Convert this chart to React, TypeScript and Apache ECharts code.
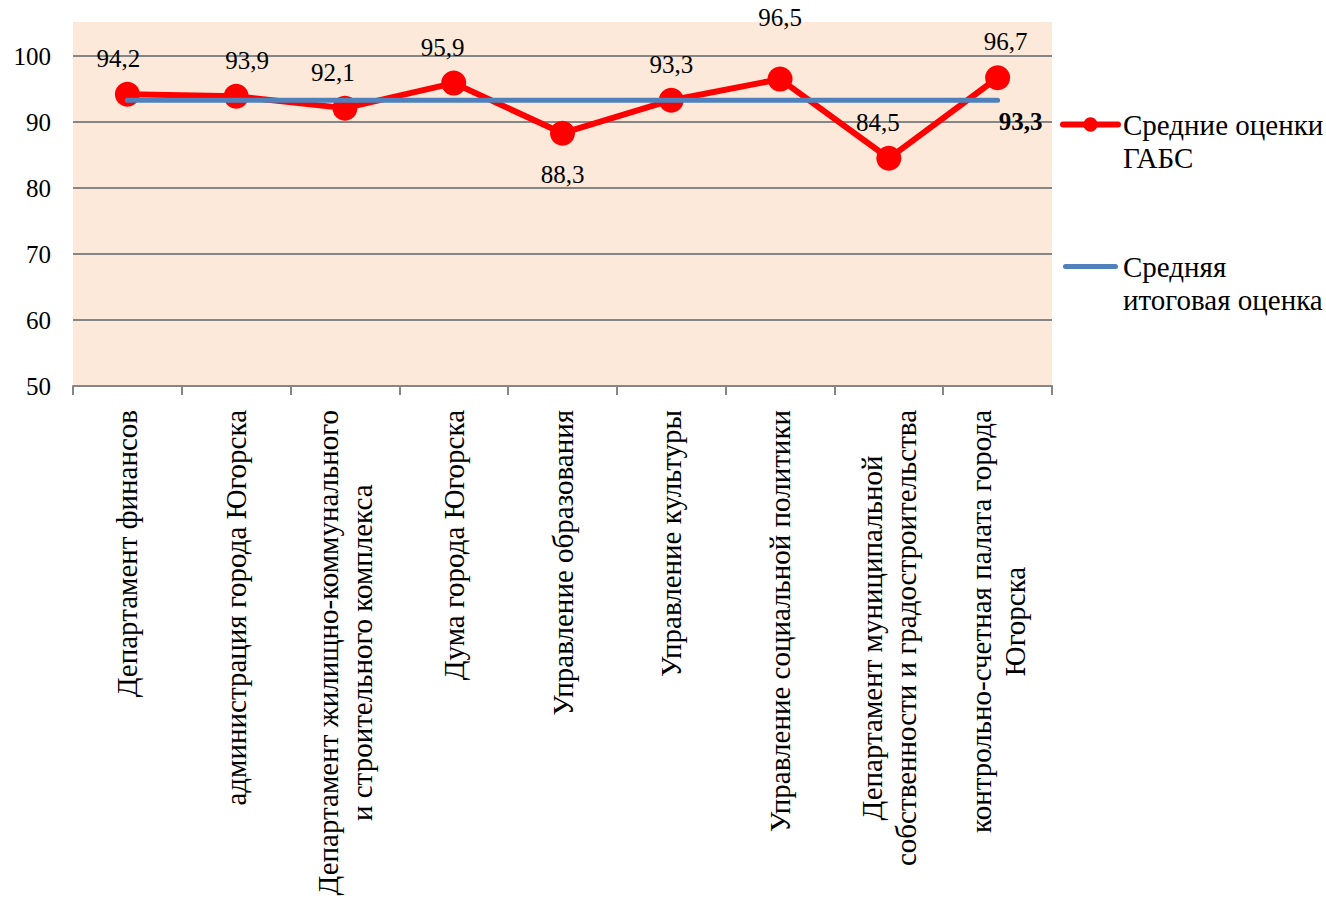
import React, { useEffect, useRef } from "react";
import * as echarts from "echarts";

const categories = [
  "Департамент финансов",
  "администрация города Югорска",
  "Департамент жилищно-коммунального\nи строительного комплекса",
  "Дума города Югорска",
  "Управление образования",
  "Управление культуры",
  "Управление социальной политики",
  "Департамент муниципальной\nсобственности и градостроительства",
  "контрольно-счетная палата города\nЮгорска",
];
const avgScores = [94.2, 93.9, 92.1, 95.9, 88.3, 93.3, 96.5, 84.5, 96.7];
const totalAvg = [93.3, 93.3, 93.3, 93.3, 93.3, 93.3, 93.3, 93.3, 93.3];
const seriesNames = ["Средние оценки ГАБС", "Средняя итоговая оценка"];
const legendLabels = ["Средние оценки\nГАБС", "Средняя\nитоговая оценка"];
const yTicks = { min: 50, max: 100, interval: 10 };

const FONT = "'Liberation Serif', 'Times New Roman', Times, serif";

export default function App() {
  const ref = useRef<HTMLDivElement>(null);
  useEffect(() => {
    if (!ref.current) return;
    const chart = echarts.init(ref.current, undefined, { renderer: "svg" });
    const fmt = (v: number) => v.toFixed(1).replace(".", ",");
    const labelTweak = (i: number) => {
      const base: any = { position: "top", distance: 11, offset: [0, 0] };
      if (i === 0) base.offset = [-9, 0];
      if (i === 1) base.offset = [11, 0];
      if (i === 2) base.offset = [-12, 0];
      if (i === 3) base.offset = [-11, 0];
      if (i === 4) { base.position = "bottom"; base.distance = 16; }
      if (i === 6) base.distance = 37;
      if (i === 7) base.offset = [-11, 0];
      if (i === 8) base.offset = [8, 0];
      return base;
    };
    const redData = avgScores.map((v, i) => ({ value: v, label: labelTweak(i) }));
    const blueData = totalAvg.map((v, i) =>
      i === totalAvg.length - 1
        ? {
            value: v,
            symbol: "circle",
            symbolSize: 1,
            label: {
              show: true,
              position: "bottom",
              distance: 8,
              offset: [23, 0],
              fontWeight: "bold",
              color: "#000",
              fontSize: 25,
              fontFamily: FONT,
              formatter: (p: any) => fmt(p.value),
            },
          }
        : { value: v }
    );
    chart.setOption({
      animation: false,
      textStyle: { fontFamily: FONT, color: "#000" },
      graphic: {
        elements: [
          {
            type: "rect",
            z: -100,
            silent: true,
            shape: { x: 73, y: 22, width: 979, height: 364 },
            style: { fill: "#FDE9D9" },
          },
        ],
      },
      grid: { left: 73, right: 274, top: 56, bottom: 516, containLabel: false },
      legend: {
        orient: "vertical",
        left: 1055,
        top: 70,
        itemGap: 43,
        itemWidth: 55,
        itemHeight: 18,
        data: [
          { name: seriesNames[0] },
          { name: seriesNames[1], icon: "path://M2.5,0H52.5A2.5,2.5,0,0,1,52.5,5H2.5A2.5,2.5,0,0,1,2.5,0Z" },
        ],
        lineStyle: { width: 6 },
        formatter: (name: string) => "\n" + legendLabels[seriesNames.indexOf(name)],
        textStyle: {
          fontFamily: FONT,
          fontSize: 29,
          lineHeight: 33,
          color: "#000",
        },
      },
      xAxis: {
        type: "category",
        data: categories,
        boundaryGap: true,
        axisLine: { lineStyle: { color: "#868686", width: 2 } },
        axisTick: { show: true, length: 9, lineStyle: { color: "#868686", width: 2 } },
        axisLabel: {
          interval: 0,
          rotate: 90,
          margin: 24,
          formatter: (v: string) =>
            v
              .split("\n")
              .map((s) => `{a|${s}}`)
              .join("\n"),
          rich: {
            a: { align: "center", fontFamily: FONT, fontSize: 29, lineHeight: 34, color: "#000" },
          },
        },
      },
      yAxis: {
        type: "value",
        min: yTicks.min,
        max: yTicks.max,
        interval: yTicks.interval,
        axisLine: { show: false },
        axisTick: { show: false },
        axisLabel: { fontFamily: FONT, fontSize: 25, color: "#000", margin: 22 },
        splitLine: { lineStyle: { color: "#868686", width: 2 } },
      },
      series: [
        {
          name: seriesNames[0],
          type: "line",
          data: redData,
          symbol: "circle",
          symbolSize: 25,
          itemStyle: { color: "#FF0000" },
          lineStyle: { color: "#FF0000", width: 6, cap: "round", join: "round" },
          label: {
            show: true,
            fontFamily: FONT,
            fontSize: 25,
            color: "#000",
            formatter: (p: any) => fmt(p.value),
          },
          z: 2,
        },
        {
          name: seriesNames[1],
          type: "line",
          data: blueData,
          symbol: "none",
          itemStyle: { color: "#4F81BD" },
          lineStyle: { color: "#4F81BD", width: 5, cap: "round" },
          z: 3,
        },
      ],
    });
    return () => chart.dispose();
  }, []);
  return (
    <div
      ref={ref}
      style={{ position: "absolute", left: 0, top: 0, width: 1326, height: 902 }}
    />
  );
}
